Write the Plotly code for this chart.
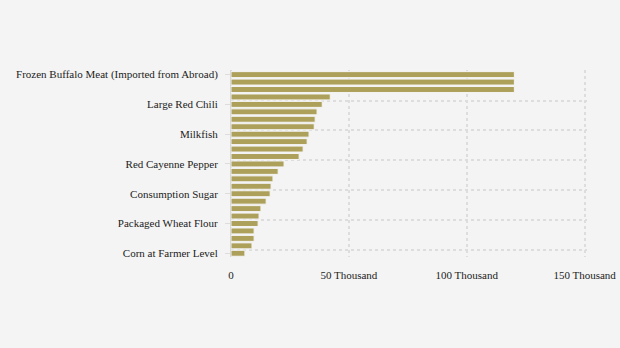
import plotly.graph_objects as go

categories = [
    "Frozen Buffalo Meat (Imported from Abroad)",
    "Beef Hindquarter",
    "Beef Brisket",
    "Purebred Chicken Meat",
    "Large Red Chili",
    "Shallots",
    "Garlic Bonggol",
    "Curly Red Chili",
    "Milkfish",
    "Mackerel Tuna",
    "Green Cayenne Pepper",
    "Purebred Chicken Eggs",
    "Red Cayenne Pepper",
    "Packaged Cooking Oil",
    "Bulk Cooking Oil",
    "Premium Rice",
    "Consumption Sugar",
    "Medium Rice",
    "Soybeans",
    "Lower Quality Rice",
    "Packaged Wheat Flour",
    "Bulk Wheat Flour",
    "Dry Unhulled Grain at Mill",
    "Dry Harvested Grain",
    "Corn at Farmer Level",
]
values = [120200, 120200, 120200, 42100, 38700, 36500, 35700, 35300, 33100, 32300,
          30600, 28900, 22500, 20000, 17800, 17000, 16600, 14900, 12700, 11900,
          11500, 9800, 9800, 8900, 5900]
label_cats = [categories[i] for i in range(0, len(categories), 4)]
x_tickvals = [0, 50000, 100000, 150000]
x_ticktext = ["0", "50 Thousand", "100 Thousand", "150 Thousand"]

n = len(categories)
y_range = [n - 0.5, -0.62]
# gridlines sit on the upper boundary of every labelled category
grid_vals = [i - 0.5 for i in range(0, n, 4)]

fig = go.Figure()
fig.add_trace(go.Bar(
    x=values, y=categories, orientation="h",
    marker=dict(color="#ada05b", line=dict(color="#f4f4f4", width=1)),
    hoverinfo="x+y", showlegend=False,
))
fig.add_trace(go.Scatter(
    x=[0, 0], y=y_range, yaxis="y2", mode="markers",
    marker=dict(opacity=0), hoverinfo="skip", showlegend=False,
))

font = dict(family="Liberation Serif", size=11, color="#222")
fig.update_layout(
    width=620, height=348,
    margin=dict(l=231, r=33, t=70, b=91),
    paper_bgcolor="#f4f4f4", plot_bgcolor="#f4f4f4",
    font=font, bargap=0.2,
    xaxis=dict(range=[0, 151000], tickvals=x_tickvals, ticktext=x_ticktext,
               showgrid=True, gridcolor="#dddddd", griddash="dot", gridwidth=1.5,
               zeroline=True, zerolinecolor="#d8d8d8", zerolinewidth=2,
               ticks="outside", ticklen=8, tickcolor="rgba(0,0,0,0)",
               showline=False, automargin=False, fixedrange=True),
    yaxis=dict(type="category", categoryorder="array", categoryarray=categories,
               range=y_range, tickmode="array", tickvals=label_cats,
               showgrid=False, ticks="outside", ticklen=5, tickcolor="#dddddd",
               ticklabelstandoff=5, showline=False, zeroline=False,
               automargin=False),
    yaxis2=dict(overlaying="y", side="left", range=y_range,
                tickmode="array", tickvals=grid_vals,
                showgrid=True, gridcolor="#dddddd", griddash="dot", gridwidth=1.5,
                showticklabels=False, ticks="", showline=False, zeroline=False,
                automargin=False),
)
fig.write_html("out.html")
